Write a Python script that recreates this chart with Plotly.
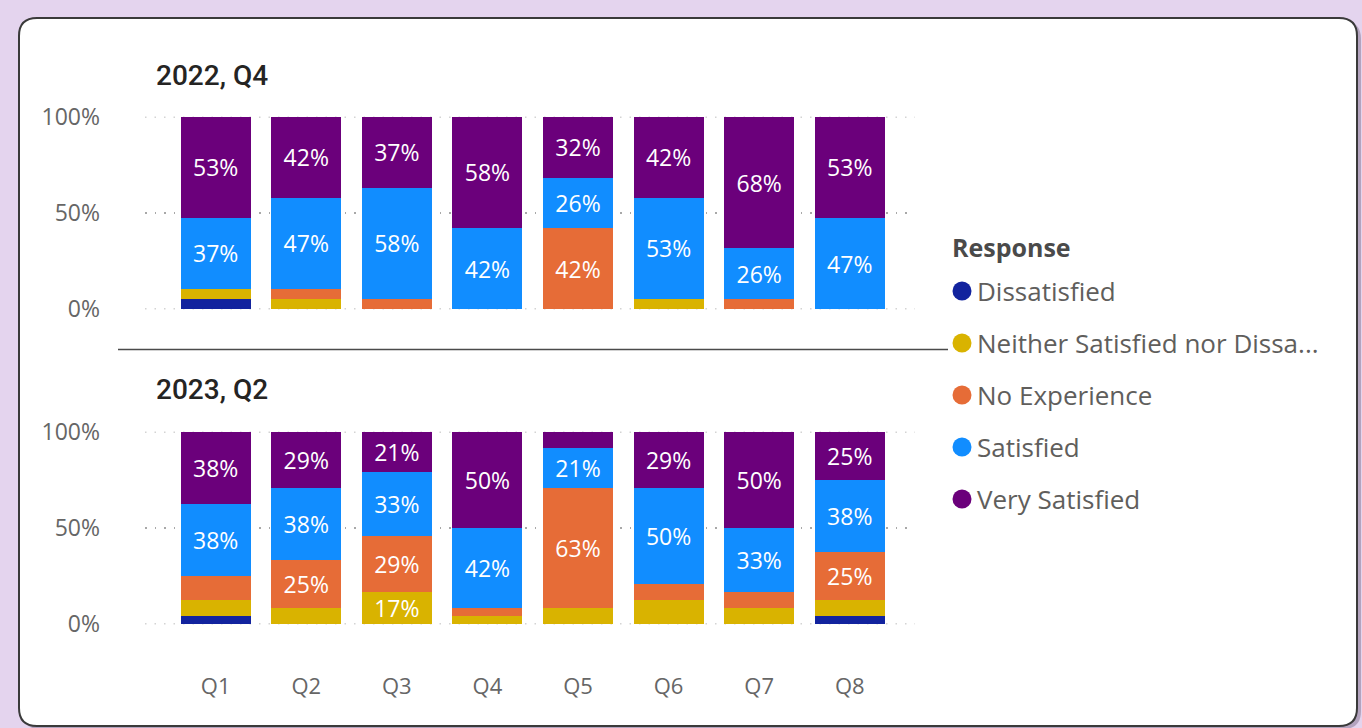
import plotly.graph_objects as go

# ---- data -------------------------------------------------------------
questions = ["Q1", "Q2", "Q3", "Q4", "Q5", "Q6", "Q7", "Q8"]
responses = ["Dissatisfied", "Neither Satisfied nor Dissatisfied",
             "No Experience", "Satisfied", "Very Satisfied"]
legend_labels = ["Dissatisfied", "Neither Satisfied nor Dissa...",
                 "No Experience", "Satisfied", "Very Satisfied"]
colors = ["#12239E", "#D9B300", "#E66C37", "#118DFF", "#6B007B"]

period_titles = ["2022, Q4", "2023, Q2"]

# share of respondents (%) per response, 2022 Q4
dissatisfied_2022 = [5.3, 0, 0, 0, 0, 0, 0, 0]
neither_2022 = [5.3, 5.3, 0, 0, 0, 5.3, 0, 0]
no_experience_2022 = [0, 5.3, 5.3, 0, 42.1, 0, 5.3, 0]
satisfied_2022 = [36.8, 47.4, 57.9, 42.1, 26.3, 52.6, 26.3, 47.4]
very_satisfied_2022 = [52.6, 42.1, 36.8, 57.9, 31.6, 42.1, 68.4, 52.6]

# share of respondents (%) per response, 2023 Q2
dissatisfied_2023 = [4.2, 0, 0, 0, 0, 0, 0, 4.2]
neither_2023 = [8.3, 8.3, 16.7, 4.2, 8.3, 12.5, 8.3, 8.3]
no_experience_2023 = [12.5, 25.0, 29.2, 4.2, 62.5, 8.3, 8.3, 25.0]
satisfied_2023 = [37.5, 37.5, 33.3, 41.7, 20.8, 50.0, 33.3, 37.5]
very_satisfied_2023 = [37.5, 29.2, 20.8, 50.0, 8.3, 29.2, 50.0, 25.0]

panels = [
    [dissatisfied_2022, neither_2022, no_experience_2022,
     satisfied_2022, very_satisfied_2022],
    [dissatisfied_2023, neither_2023, no_experience_2023,
     satisfied_2023, very_satisfied_2023],
]

y_ticks = [0, 50, 100]
y_tick_text = ["0%", "50%", "100%"]
label_min = 15  # segments smaller than this get no data label

# ---- geometry (pixels on a 1362 x 728 canvas) ---------------------------
W, H = 1362, 728


def px(x):
    return x / W


def py(y):
    return 1 - y / H


FONT = "Open Sans, Noto Sans, sans-serif"
TITLE_FONT = "Roboto, Noto Sans, sans-serif"
GRAY = "#666666"
GRID_COLOR = "#A8A8A8"
GRID_DASH = "1.5px,8px"

fig = go.Figure()

for p, series in enumerate(panels):
    xa = "x" if p == 0 else "x2"
    ya = "y" if p == 0 else "y2"
    for name, vals, col in zip(responses, series, colors):
        fig.add_trace(go.Bar(
            x=questions, y=vals, name=name,
            xaxis=xa, yaxis=ya,
            marker=dict(color=col, line=dict(width=0)),
            texttemplate=["%{y:.0f}%" if v >= label_min else "" for v in vals],
            textposition="inside", insidetextanchor="middle",
            textangle=0, constraintext="none",
            textfont=dict(color="white", size=23, family=FONT),
            showlegend=False, hoverinfo="skip",
        ))

x_dom = [px(145), px(915)]
x_range = [-0.78, 7.72]
y_common = dict(
    range=[0, 100], tickvals=y_ticks, ticktext=y_tick_text,
    showgrid=True, gridcolor=GRID_COLOR, griddash=GRID_DASH, gridwidth=1.5,
    zeroline=False, showline=False, ticks="", automargin=False,
    tickfont=dict(size=23, color=GRAY, family=FONT),
    ticklabelstandoff=44, fixedrange=True,
)
x_common = dict(
    range=x_range, domain=x_dom, showgrid=False, zeroline=False,
    showline=False, ticks="", automargin=False, fixedrange=True,
    tickfont=dict(size=22, color=GRAY, family=FONT),
)

fig.update_layout(
    width=W, height=H,
    margin=dict(l=0, r=0, t=0, b=0),
    paper_bgcolor="#E4D4EE", plot_bgcolor="rgba(0,0,0,0)",
    barmode="stack", bargap=0.227,
    template="none",
    xaxis=dict(x_common, anchor="y", showticklabels=False),
    yaxis=dict(y_common, domain=[py(309.3), py(116.7)], anchor="x"),
    xaxis2=dict(x_common, anchor="y2", showticklabels=True,
                ticklabelstandoff=47),
    yaxis2=dict(y_common, domain=[py(624.3), py(431.7)], anchor="x2"),
    showlegend=False,
)

# ---- card background ---------------------------------------------------
def rounded_rect(x0, y0, x1, y1, r):
    rx, ry = r / W, r / H
    X0, X1, Y0, Y1 = px(x0), px(x1), py(y1), py(y0)
    return (f"M {X0+rx},{Y1} L {X1-rx},{Y1} Q {X1},{Y1} {X1},{Y1-ry} "
            f"L {X1},{Y0+ry} Q {X1},{Y0} {X1-rx},{Y0} "
            f"L {X0+rx},{Y0} Q {X0},{Y0} {X0},{Y0+ry} "
            f"L {X0},{Y1-ry} Q {X0},{Y1} {X0+rx},{Y1} Z")


fig.add_shape(type="path", path=rounded_rect(22, 21, 1361, 729, 18),
              xref="paper", yref="paper", fillcolor="#B3A3BE",
              line=dict(width=0), layer="below")
fig.add_shape(type="path", path=rounded_rect(19, 18, 1357, 726, 18),
              xref="paper", yref="paper", fillcolor="white",
              line=dict(color="#3A3A3A", width=2), layer="below")

# dotted gridlines on the plot edges (0% and 100%), beneath the bars
for xr, yr in [("x domain", "y"), ("x2 domain", "y2")]:
    for yv in (y_ticks[0], y_ticks[-1]):
        fig.add_shape(type="line", xref=xr, yref=yr, x0=0, x1=1,
                      y0=yv, y1=yv, layer="below",
                      line=dict(color=GRID_COLOR, width=1.5, dash=GRID_DASH))

# separator between the two periods
fig.add_shape(type="line", xref="paper", yref="paper",
              x0=px(118), x1=px(948), y0=py(349.5), y1=py(349.5),
              line=dict(color="#4A4A4A", width=1.6))

# period titles
for title, yc in zip(period_titles, [76, 389]):
    fig.add_annotation(text=title, xref="paper", yref="paper",
                       x=px(154), y=py(yc), xanchor="left", yanchor="middle",
                       showarrow=False,
                       font=dict(size=28, color="#252423", family=TITLE_FONT,
                                 weight=500))

# ---- legend -------------------------------------------------------------
fig.add_annotation(text="<b>Response</b>", xref="paper", yref="paper",
                   x=px(950), y=py(247), xanchor="left", yanchor="middle",
                   showarrow=False,
                   font=dict(size=25, color="#4A4A4A", family=FONT))
for i, (lab, col) in enumerate(zip(legend_labels, colors)):
    yc = 291 + 52 * i
    r = 9.5
    fig.add_shape(type="circle", xref="paper", yref="paper",
                  x0=px(962 - r), x1=px(962 + r),
                  y0=py(yc + r), y1=py(yc - r),
                  fillcolor=col, line=dict(width=0))
    fig.add_annotation(text=lab, xref="paper", yref="paper",
                       x=px(975), y=py(yc), xanchor="left", yanchor="middle",
                       showarrow=False,
                       font=dict(size=26, color="#605E5C", family=FONT))

fig.write_html("out.html")
